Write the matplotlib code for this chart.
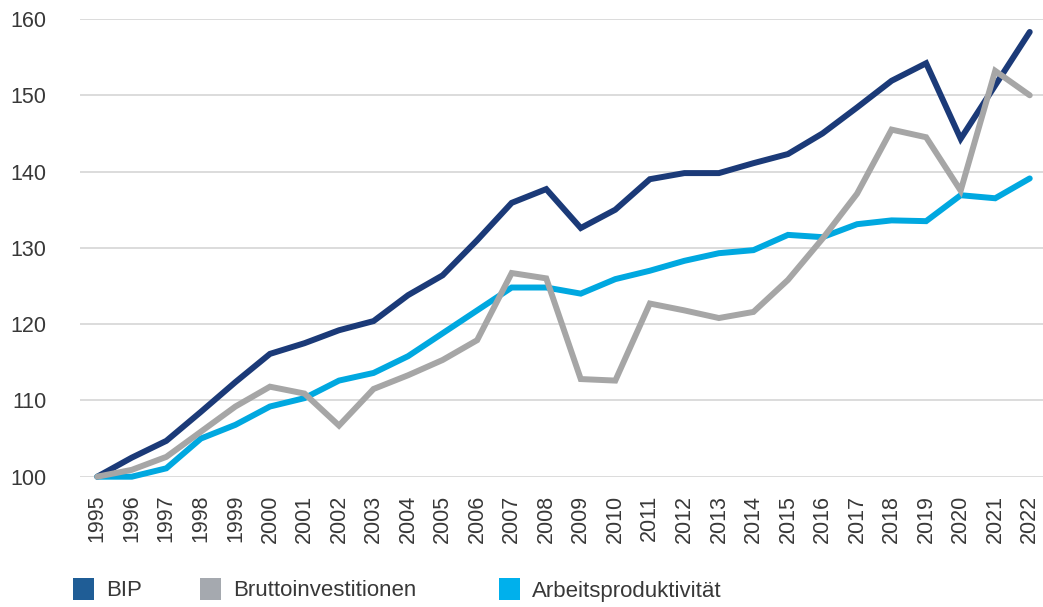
import matplotlib
matplotlib.use("Agg")
import matplotlib.pyplot as plt
from matplotlib.patches import Rectangle

# Daten (Index 1995 = 100)
jahre = list(range(1995, 2023))

bip = [100.0, 102.5, 104.7, 108.5, 112.4, 116.1, 117.5, 119.2, 120.4, 123.8,
       126.4, 131.0, 135.9, 137.7, 132.6, 135.0, 139.0, 139.8, 139.8, 141.1,
       142.3, 145.0, 148.4, 151.9, 154.2, 144.3, 151.3, 158.3]

brutto = [100.0, 100.9, 102.6, 105.9, 109.2, 111.8, 110.9, 106.7, 111.5, 113.3,
          115.3, 117.9, 126.7, 126.0, 112.8, 112.6, 122.7, 121.8, 120.8, 121.6,
          125.8, 131.2, 137.1, 145.5, 144.5, 137.5, 153.2, 150.0]

arbeit = [100.0, 100.0, 101.1, 105.0, 106.8, 109.2, 110.3, 112.6, 113.6, 115.8,
          118.8, 121.8, 124.8, 124.8, 124.0, 125.9, 127.0, 128.3, 129.3, 129.7,
          131.7, 131.4, 133.1, 133.6, 133.5, 136.9, 136.5, 139.1]

namen = ["BIP", "Bruttoinvestitionen", "Arbeitsproduktivität"]
farben = ["#1b3a78", "#a6a6a6", "#00a8e0"]
legende_farben = ["#1f5d96", "#a5a9af", "#00b0ec"]

plt.rcParams["font.family"] = ["Liberation Sans", "DejaVu Sans"]
textfarbe = "#383838"

W, H = 1043, 607
fig = plt.figure(figsize=(W / 100, H / 100), dpi=100)
ax = fig.add_axes([80 / W, (H - 476.7) / H, 967 / W, 457.7 / H])

for werte, farbe, z in [(bip, farben[0], 3), (arbeit, farben[2], 4), (brutto, farben[1], 5)]:
    ax.plot(jahre, werte, color=farbe, lw=4.3, solid_capstyle="round",
            solid_joinstyle="miter", clip_on=False, zorder=z)

ax.set_xlim(1994.5, 2022.5)
ax.set_ylim(100, 160)
ax.set_yticks(range(100, 161, 10))
ax.set_xticks(jahre)
ax.set_xticklabels([str(j) for j in jahre], rotation=90, va="top", ha="center")
ax.grid(axis="y", color="#d9d9d9", lw=1.3, zorder=0)
ax.set_axisbelow(True)
for s in ax.spines.values():
    s.set_visible(False)
ax.tick_params(axis="y", length=0, pad=24, labelsize=15.5, labelcolor=textfarbe)
ax.tick_params(axis="x", length=0, pad=13, labelsize=15.5, labelcolor=textfarbe)

# Legende unten
leg_x = [73, 200, 499]
for x, name, farbe in zip(leg_x, namen, legende_farben):
    fig.add_artist(Rectangle((x / W, (H - 600) / H), 21 / W, 22 / H,
                             transform=fig.transFigure, color=farbe, lw=0))
    fig.text((x + 33) / W, (H - 591) / H, name, fontsize=16, color=textfarbe,
             va="center", ha="left")

fig.savefig("out.png", dpi=100)
